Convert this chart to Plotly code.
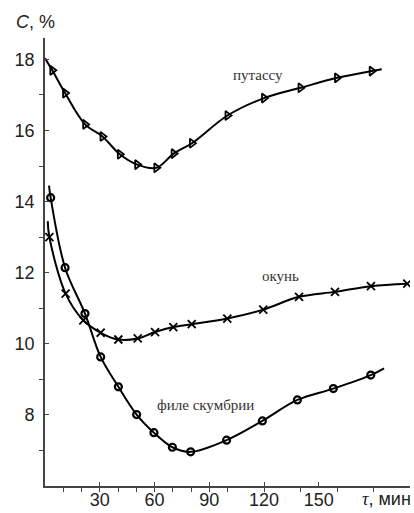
import plotly.graph_objects as go

# ---- data ----
putassu_t = [4, 11, 22, 31.5, 41, 50.5, 61, 70.5, 80.5, 100, 120, 140, 160, 179]
putassu_c = [17.69, 17.05, 16.17, 15.83, 15.33, 15.04, 14.95, 15.35, 15.64, 16.42, 16.91, 17.20, 17.48, 17.67]
putassu_start = (0, 18.03)
putassu_end = (184.5, 17.72)

okun_t = [2.4, 11.3, 21, 30.5, 40.2, 50.8, 60.3, 70.3, 80.4, 99.9, 119.6, 139.2, 158.9, 178.6, 198.5]
okun_c = [13.0, 11.41, 10.66, 10.31, 10.12, 10.15, 10.33, 10.47, 10.55, 10.71, 10.96, 11.32, 11.46, 11.62, 11.69]
okun_start = (1.5, 13.45)

skumbria_t = [3.1, 11, 21.9, 30.5, 40.2, 50.2, 59.7, 69.8, 79.8, 99.5, 119.1, 138.3, 158, 178.5]
skumbria_c = [14.11, 12.14, 10.85, 9.63, 8.79, 8.01, 7.50, 7.09, 6.96, 7.29, 7.83, 8.42, 8.74, 9.12]
skumbria_start = (2.2, 14.45)
skumbria_end = (185.8, 9.31)

x_ticks = [30, 60, 90, 120, 150]
x_minor = [10, 20, 30, 40, 50, 60, 70, 80, 90, 100, 120, 140, 160, 180, 200]
y_ticks = [8, 10, 12, 14, 16, 18]
y_minor = [7, 9, 11, 13, 15, 17]

labels = [("путассу", 116.7, 17.55), ("окунь", 128.8, 11.9), ("филе скумбрии", 87.7, 8.28)]

# ---- figure ----
fig = go.Figure()
LINE = dict(color="black", width=2, shape="spline", smoothing=1.0)


def add_series(t, c, start=None, end=None, symbol="circle", size=7, mline=1.5):
    lt = ([start[0]] if start else []) + list(t) + ([end[0]] if end else [])
    lc = ([start[1]] if start else []) + list(c) + ([end[1]] if end else [])
    fig.add_trace(go.Scatter(x=lt, y=lc, mode="lines", line=LINE, hoverinfo="skip"))
    fig.add_trace(go.Scatter(x=t, y=c, mode="markers",
                             marker=dict(symbol=symbol, size=size, color="black",
                                         line=dict(color="black", width=mline))))


add_series(putassu_t, putassu_c, putassu_start, putassu_end, symbol="triangle-right-open", size=8, mline=1.8)
add_series(okun_t, okun_c, okun_start, None, symbol="x-thin", size=8, mline=1.8)
add_series(skumbria_t, skumbria_c, skumbria_start, skumbria_end, symbol="circle-open", size=7, mline=2.2)

for txt, x, y in labels:
    fig.add_annotation(x=x, y=y, text=txt, showarrow=False,
                       font=dict(family="Liberation Serif", size=15, color="#333"))

fig.add_annotation(xref="paper", yref="paper", x=-0.085, y=1.035, xanchor="left", yanchor="middle",
                   text="<i>C</i>, %", showarrow=False,
                   font=dict(family="Liberation Sans", size=18, color="#222"))
fig.add_annotation(xref="paper", yref="paper", x=1.008, y=-0.03, xanchor="right", yanchor="middle",
                   text="<span style='font-family:Liberation Serif'><i>τ</i></span>, мин", showarrow=False,
                   font=dict(family="Liberation Sans", size=18, color="#222"))

axis_common = dict(showgrid=False, zeroline=False, showline=True, linecolor="#444", linewidth=1.6,
                   ticks="inside", ticklen=4, tickwidth=1.3, tickcolor="#444", automargin=False,
                   tickfont=dict(family="Liberation Sans", size=18, color="#222"))

fig.update_xaxes(range=[0, 200], tickmode="array", tickvals=x_ticks,
                 minor=dict(tickmode="array", tickvals=x_minor, ticks="outside", ticklen=4,
                            tickwidth=1.3, tickcolor="#444"),
                 ticklabelstandoff=-3, **axis_common)
fig.update_yaxes(range=[6, 18.6], tickmode="array", tickvals=y_ticks,
                 minor=dict(tickmode="array", tickvals=y_minor, ticks="outside", ticklen=4,
                            tickwidth=1.3, tickcolor="#444"),
                 ticklabelstandoff=5, **axis_common)

fig.update_layout(width=414, height=513, showlegend=False,
                  margin=dict(l=45, r=4, t=38, b=27),
                  plot_bgcolor="white", paper_bgcolor="white")

fig.write_html("out.html", config={"displayModeBar": False},
               post_script="document.body.style.margin='0';")
